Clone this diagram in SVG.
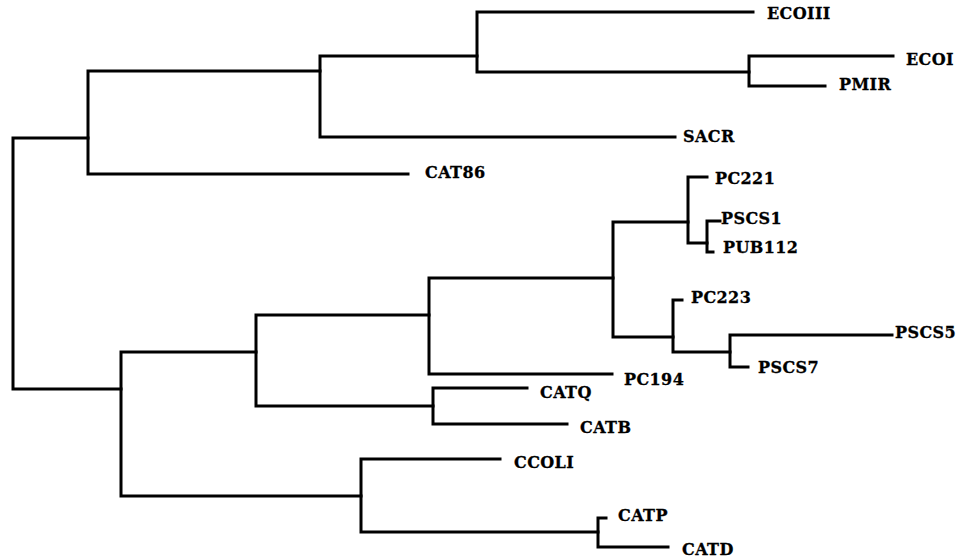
<svg xmlns="http://www.w3.org/2000/svg" width="959" height="558" viewBox="0 0 959 558">
<style>
.e{fill:none;stroke:#000;stroke-width:3;stroke-linejoin:miter;stroke-linecap:square}
.t{font-family:"DejaVu Serif","Liberation Serif",serif;font-weight:bold;font-size:16px;letter-spacing:0.4px;fill:#000;stroke:#000;stroke-width:0.3}
</style>
<rect width="959" height="558" fill="#fff"/>
<g id="connectors">
<path class="e" d="M88,138 H13 V389 H121"/>
<path class="e" d="M320,71 H88 V174 H408"/>
<path class="e" d="M477,56 H320 V137 H675"/>
<path class="e" d="M753,12 H477 V72 H749"/>
<path class="e" d="M893,56 H749 V86 H825"/>
<path class="e" d="M256,352 H121 V496 H361"/>
<path class="e" d="M429,315 H256 V406 H433"/>
<path class="e" d="M613,278 H429 V374 H612"/>
<path class="e" d="M688,222 H613 V337 H673"/>
<path class="e" d="M707,177 H688 V243 H707"/>
<path class="e" d="M720,221 H707 V252 H713"/>
<path class="e" d="M682,300 H673 V352 H730"/>
<path class="e" d="M892,335 H730 V367 H748"/>
<path class="e" d="M527,388 H433 V424 H567"/>
<path class="e" d="M500,459 H361 V532 H598"/>
<path class="e" d="M606,518 H598 V547 H668"/>
</g>
<g id="ECOIII"><text class="t" x="767" y="19">ECOIII</text></g>
<g id="ECOI"><text class="t" x="906" y="65">ECOI</text></g>
<g id="PMIR"><text class="t" x="839" y="90">PMIR</text></g>
<g id="SACR"><text class="t" x="683" y="142">SACR</text></g>
<g id="CAT86"><text class="t" x="425" y="178">CAT86</text></g>
<g id="PC221"><text class="t" x="715" y="184">PC221</text></g>
<g id="PSCS1"><text class="t" x="721" y="224">PSCS1</text></g>
<g id="PUB112"><text class="t" x="723" y="253">PUB112</text></g>
<g id="PC223"><text class="t" x="691" y="303">PC223</text></g>
<g id="PSCS5"><text class="t" x="895" y="338">PSCS5</text></g>
<g id="PSCS7"><text class="t" x="758" y="373">PSCS7</text></g>
<g id="PC194"><text class="t" x="624" y="385">PC194</text></g>
<g id="CATQ"><text class="t" x="540" y="398">CATQ</text></g>
<g id="CATB"><text class="t" x="580" y="433">CATB</text></g>
<g id="CCOLI"><text class="t" x="514" y="468">CCOLI</text></g>
<g id="CATP"><text class="t" x="618" y="521">CATP</text></g>
<g id="CATD"><text class="t" x="682" y="555">CATD</text></g>
</svg>
